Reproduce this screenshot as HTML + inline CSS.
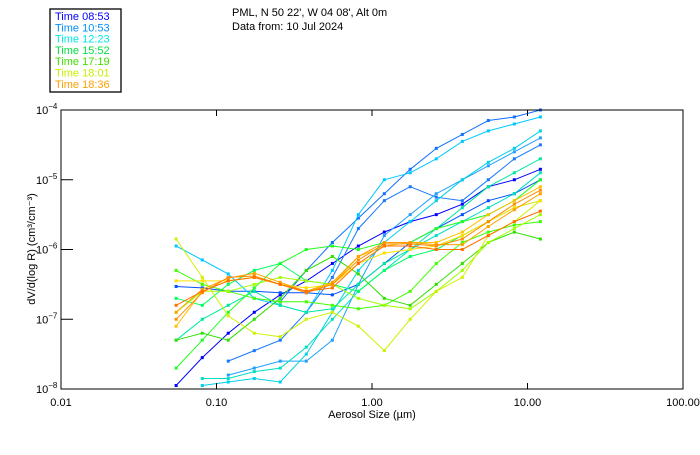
<!DOCTYPE html>
<html><head><meta charset="utf-8"><style>
body{margin:0;background:#fff;width:700px;height:450px;overflow:hidden}
svg text{font-family:"Liberation Sans",sans-serif}
</style></head><body>
<svg id="chart" width="700" height="450" viewBox="0 0 700 450">
<rect x="50" y="9" width="71" height="83" fill="#fff" stroke="#000" stroke-width="1.3"/>
<g id="legend" font-size="11"></g>
<text x="232" y="16" font-size="11">PML, N 50 22', W 04 08', Alt 0m</text>
<text x="232" y="30" font-size="11">Data from: 10 Jul 2024</text>
<g id="plot"></g>
<g id="axes"></g>
<text x="372" y="418" font-size="11" text-anchor="middle">Aerosol Size (µm)</text>
<text transform="translate(35,249) rotate(-90)" font-size="11" text-anchor="middle">dV/d(log R) (cm³/cm⁻³)</text>
</svg>
<script>
const sizes=[0.055,0.081,0.119,0.175,0.257,0.378,0.556,0.817,1.2,1.76,2.59,3.81,5.6,8.23,12.1];
const xTicks=[0.01,0.1,1,10,100];
const xTickLabels=["0.01","0.10","1.00","10.00","100.00"];
const yTickExps=[-4,-5,-6,-7,-8];
const legendLabels=["Time 08:53","Time 10:53","Time 12:23","Time 15:52","Time 17:19","Time 18:01","Time 18:36"];
const legendColors=["#0000ff","#0090ff","#00e8e8","#00e040","#40e000","#c8f000","#ffa000"];
const seriesColors=["#0000ff","#0050ff","#1070ff","#1878ff","#20a0ff","#00c8ff","#00d0e8","#00e0c0","#00e8a0","#00ff60","#20ff20","#40ff00","#30e000","#a0ff00","#d0f000","#ffe000","#ffc000","#ffa000","#ff8c00","#ff7000"];
const s1=[-7.95,-7.55,-7.2,-6.9,-6.65,-6.45,-6.2,-5.95,-5.75,-5.6,-5.5,-5.35,-5.1,-5.0,-4.85];
const s2=[-6.53,-6.55,-6.6,-6.6,-6.62,-6.62,-6.65,-6.5,-6.2,-5.9,-5.7,-5.5,-5.3,-5.2,-5.0];
const s3=[null,null,null,null,-6.75,-6.3,-5.9,-5.55,-5.2,-4.85,-4.55,-4.35,-4.15,-4.1,-4.0];
const s4=[null,null,-7.6,-7.45,-7.3,-6.9,-6.4,-5.7,-5.3,-5.1,-5.25,-5.3,-5.0,-4.7,-4.5];
const s5=[null,null,-7.8,-7.7,-7.6,-7.6,-7.3,-6.5,-5.8,-5.5,-5.2,-5.0,-4.8,-4.6,-4.4];
const s6=[-5.95,-6.15,-6.35,-6.7,-6.8,-6.9,-6.3,-5.5,-5.0,-4.9,-4.7,-4.45,-4.3,-4.2,-4.1];
const s7=[null,-7.95,-7.9,-7.85,-7.9,-7.5,-6.9,-6.3,-5.9,-5.6,-5.3,-5.0,-4.75,-4.55,-4.3];
const s8=[null,-7.85,-7.85,-7.75,-7.7,-7.4,-7.0,-6.6,-6.3,-6.0,-5.8,-5.6,-5.4,-5.2,-4.9];
const s9=[-7.3,-7.0,-6.8,-6.6,-6.8,-6.9,-6.85,-6.5,-6.2,-6.0,-5.7,-5.4,-5.1,-4.9,-4.7];
const s10=[-6.7,-6.8,-6.5,-6.3,-6.2,-6.45,-6.5,-6.6,-6.3,-6.1,-6.0,-5.8,-5.6,-5.4,-5.3];
const s11=[-7.7,-7.3,-6.9,-6.55,-6.2,-6.0,-5.95,-6.0,-5.9,-5.9,-5.7,-5.6,-5.5,-5.3,-5.0];
const s12=[-6.3,-6.5,-6.6,-6.7,-6.75,-6.75,-6.8,-6.85,-6.8,-6.6,-6.2,-5.9,-5.75,-5.65,-5.6];
const s13=[-7.3,-7.2,-7.3,-7.0,-6.7,-6.3,-6.1,-6.35,-6.7,-6.8,-6.5,-6.2,-5.9,-5.75,-5.85];
const s14=[-6.9,-6.6,-6.6,-6.5,-6.4,-6.45,-6.5,-6.7,-6.8,-6.85,-6.6,-6.3,-5.9,-5.7,-5.5];
const s15=[-5.85,-6.4,-6.95,-7.2,-7.25,-7.0,-6.9,-7.1,-7.45,-7.0,-6.6,-6.4,-5.8,-5.6,-5.3];
const s16=[-6.45,-6.45,-6.45,-6.4,-6.5,-6.55,-6.5,-6.2,-6.05,-6.0,-5.95,-5.8,-5.6,-5.4,-5.3];
const s17=[-7.1,-6.6,-6.45,-6.4,-6.5,-6.6,-6.5,-6.1,-5.95,-5.9,-5.9,-5.75,-5.5,-5.3,-5.1];
const s18=[-6.9,-6.57,-6.41,-6.34,-6.47,-6.6,-6.47,-6.1,-5.9,-5.9,-5.93,-5.93,-5.67,-5.43,-5.2];
const s19=[-7.0,-6.62,-6.4,-6.38,-6.5,-6.62,-6.5,-6.15,-5.92,-5.92,-5.95,-5.85,-5.6,-5.35,-5.15];
const s20=[-6.8,-6.6,-6.45,-6.4,-6.5,-6.6,-6.55,-6.2,-5.95,-5.95,-6.0,-6.0,-5.8,-5.6,-5.45];
const series=[s1,s2,s3,s4,s5,s6,s7,s8,s9,s10,s11,s12,s13,s14,s15,s16,s17,s18,s19,s20];

const L=61,R=683,T=110,B=389;
const xS=v=>L+(Math.log10(v)+2)/4*(R-L);
const yS=e=>T+(-4-e)/4*(B-T);
const NS="http://www.w3.org/2000/svg";
function mk(tag,attrs,parent){const e=document.createElementNS(NS,tag);for(const k in attrs)e.setAttribute(k,attrs[k]);parent.appendChild(e);return e;}

const lg=document.getElementById('legend');
legendLabels.forEach((t,i)=>{
  const el=mk('text',{x:55,y:20+i*11.3,fill:legendColors[i]},lg);
  el.textContent=t;
  
  
});

const plot=document.getElementById('plot');
series.forEach((s,si)=>{
  const g=mk('g',{},plot);
  
  
  let d='';
  s.forEach((v,i)=>{if(v===null)return;const x=xS(sizes[i]),y=Math.min(B,yS(v));d+=(d?'L':'M')+x.toFixed(1)+' '+y.toFixed(1);});
  mk('path',{d:d,fill:'none',stroke:seriesColors[si],'stroke-width':1},g);
  s.forEach((v,i)=>{if(v===null)return;const y=yS(v);if(y>B)return;
    const p=mk('rect',{x:xS(sizes[i])-1.5,y:y-1.5,width:3,height:3,fill:seriesColors[si]},g);
    
    
  });
});

const ax=document.getElementById('axes');
mk('rect',{x:L,y:T,width:R-L,height:B-T,fill:'none',stroke:'#000','stroke-width':1},ax);
xTicks.forEach((v,i)=>{
  const x=xS(v);
  mk('line',{x1:x,y1:B,x2:x,y2:B-6,stroke:'#000'},ax);
  mk('line',{x1:x,y1:T,x2:x,y2:T+6,stroke:'#000'},ax);
  const t=mk('text',{x:x,y:406,'font-size':11,'text-anchor':'middle'},ax);
  t.textContent=xTickLabels[i];
  
  
});
yTickExps.forEach(e=>{
  const y=yS(e);
  mk('line',{x1:L,y1:y,x2:L+12,y2:y,stroke:'#000'},ax);
  const t=mk('text',{x:36,y:y+4,'font-size':11},ax);
  
  
  t.textContent='10';
  const sp=mk('tspan',{dy:-5,'font-size':8},t);
  sp.textContent=String(e).replace('-','−');
});
</script>
</body></html>
